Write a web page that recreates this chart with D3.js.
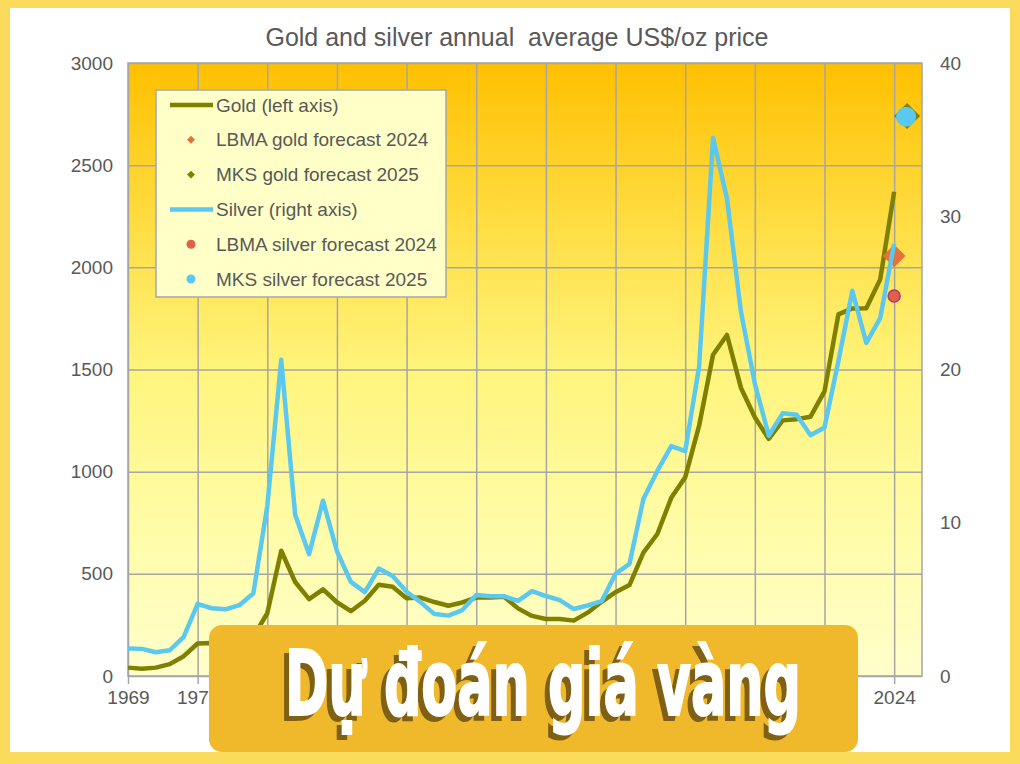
<!DOCTYPE html>
<html>
<head>
<meta charset="utf-8">
<script src="https://cdn.jsdelivr.net/npm/d3@7"></script>
<style>
  html, body { margin: 0; padding: 0; background: #fff; }
  svg { display: block; }
  text { font-family: "Liberation Sans", Arial, sans-serif; }
</style>
</head>
<body>
<svg id="chart" width="1020" height="764"></svg>
<script>
// ---------- data ----------
const years = [1969,1970,1971,1972,1973,1974,1975,1976,1977,1978,1979,1980,1981,1982,1983,1984,1985,1986,1987,1988,1989,1990,1991,1992,1993,1994,1995,1996,1997,1998,1999,2000,2001,2002,2003,2004,2005,2006,2007,2008,2009,2010,2011,2012,2013,2014,2015,2016,2017,2018,2019,2020,2021,2022,2023,2024];
const gold = [41,36,41,58,97,159,161,125,148,193,307,613,460,376,424,361,317,368,447,437,381,384,362,344,360,384,384,388,331,294,279,279,271,310,363,410,445,604,695,872,972,1225,1572,1669,1411,1266,1160,1251,1257,1269,1393,1770,1799,1800,1941,2370];
const silver = [1.79,1.77,1.55,1.68,2.56,4.71,4.42,4.35,4.62,5.40,11.09,20.63,10.52,7.95,11.44,8.14,6.14,5.47,7.01,6.53,5.50,4.82,4.04,3.94,4.30,5.29,5.20,5.20,4.90,5.54,5.22,4.95,4.37,4.60,4.88,6.67,7.32,11.55,13.38,15.0,14.67,20.19,35.12,31.15,23.79,19.08,15.68,17.14,17.05,15.71,16.21,20.55,25.14,21.73,23.35,28.2];
const lbmaGoldForecast = [{year: 2024, value: 2056}];
const mksGoldForecast = [{year: 2025, value: 2741}];
const lbmaSilverForecast = [{year: 2024, value: 24.8}];
const mksSilverForecast = [{year: 2025, value: 36.5}];
const xTickYears = [1969,1974,1979,1984,1989,1994,1999,2004,2009,2014,2019,2024];
const leftTicks = [0,500,1000,1500,2000,2500,3000];
const rightTicks = [0,10,20,30,40];
const legendLabels = ["Gold (left axis)","LBMA gold forecast 2024","MKS gold forecast 2025","Silver (right axis)","LBMA silver forecast 2024","MKS silver forecast 2025"];
const titleText = "Gold and silver annual  average US$/oz price";
const bannerText = "Dự đoán giá vàng";

// ---------- layout ----------
const W = 1020, H = 764;
const P = {left: 128, right: 922, top: 63, bottom: 676};
const C = {
  gold: "#7f7f00", silver: "#5bc8f0", lbmaGold: "#e8703a", lbmaSilver: "#e0604a",
  lbmaSilverStroke: "#b03a78", text: "#595959", grid: "#a6a6a6"
};

const svg = d3.select("#chart");
const defs = svg.append("defs");
const grad = defs.append("linearGradient").attr("id", "bg").attr("x1", 0).attr("y1", 0).attr("x2", 0).attr("y2", 1);
[[0, "#ffc000"], [0.25, "#ffdc40"], [0.5, "#fff47c"], [0.75, "#fffca6"], [1, "#ffffcc"]]
  .forEach(([o, c]) => grad.append("stop").attr("offset", o).attr("stop-color", c));

// outer frame
svg.append("rect").attr("width", W).attr("height", H).attr("fill", "#f9da5b");
svg.append("rect").attr("x", 10).attr("y", 8).attr("width", 1000).attr("height", 744).attr("fill", "#ffffff");

// scales
const x = d3.scaleLinear().domain([1969, 2026]).range([P.left, P.right]);
const yL = d3.scaleLinear().domain([0, 3000]).range([P.bottom, P.top]);
const yR = d3.scaleLinear().domain([0, 40]).range([P.bottom, P.top]);

// plot background
svg.append("rect").attr("x", P.left).attr("y", P.top)
  .attr("width", P.right - P.left).attr("height", P.bottom - P.top).attr("fill", "url(#bg)");

// gridlines
const gH = d3.axisLeft(yL).tickValues(leftTicks).tickSize(-(P.right - P.left)).tickFormat("");
svg.append("g").attr("transform", `translate(${P.left},0)`).call(gH)
  .call(g => g.select(".domain").remove())
  .call(g => g.selectAll("line").attr("stroke", C.grid).attr("stroke-width", 1.5));
const gV = d3.axisBottom(x).tickValues(xTickYears).tickSize(-(P.bottom - P.top)).tickFormat("");
svg.append("g").attr("transform", `translate(0,${P.bottom})`).call(gV)
  .call(g => g.select(".domain").remove())
  .call(g => g.selectAll("line").attr("stroke", C.grid).attr("stroke-width", 1.5));

// plot border
svg.append("rect").attr("x", P.left).attr("y", P.top)
  .attr("width", P.right - P.left).attr("height", P.bottom - P.top)
  .attr("fill", "none").attr("stroke", C.grid).attr("stroke-width", 1.5);

// axes
const axL = d3.axisLeft(yL).tickValues(leftTicks).tickSize(0).tickPadding(15).tickFormat(d3.format("d"));
svg.append("g").attr("transform", `translate(${P.left},0)`).call(axL)
  .call(g => g.select(".domain").remove())
  .call(g => g.selectAll("text").attr("fill", C.text).style("font-size", "19px").style("font-family", "Liberation Sans, Arial, sans-serif"));
const axR = d3.axisRight(yR).tickValues(rightTicks).tickSize(0).tickPadding(18).tickFormat(d3.format("d"));
svg.append("g").attr("transform", `translate(${P.right},0)`).call(axR)
  .call(g => g.select(".domain").remove())
  .call(g => g.selectAll("text").attr("fill", C.text).style("font-size", "19px").style("font-family", "Liberation Sans, Arial, sans-serif"));
const axB = d3.axisBottom(x).tickValues(xTickYears).tickSize(8).tickPadding(7).tickFormat(d3.format("d"));
svg.append("g").attr("transform", `translate(0,${P.bottom})`).call(axB)
  .call(g => g.select(".domain").remove())
  .call(g => g.selectAll("line").attr("stroke", C.grid).attr("stroke-width", 1.5))
  .call(g => g.selectAll("text").attr("fill", C.text).style("font-size", "19px").style("font-family", "Liberation Sans, Arial, sans-serif"));

// title
svg.append("text").attr("x", 517).attr("y", 46).attr("text-anchor", "middle")
  .attr("fill", C.text).style("font-size", "25px").style("white-space", "pre").text(titleText);

// series
const goldData = years.map((yr, i) => ({year: yr, value: gold[i]}));
const silverData = years.map((yr, i) => ({year: yr, value: silver[i]}));
const diamond = d3.symbol().type(d3.symbolDiamond2);

svg.append("path").datum(goldData)
  .attr("d", d3.line().x(d => x(d.year)).y(d => yL(d.value)))
  .attr("fill", "none").attr("stroke", C.gold).attr("stroke-width", 4.5).attr("stroke-linejoin", "round");

svg.selectAll(".lbmaG").data(lbmaGoldForecast).join("path")
  .attr("transform", d => `translate(${x(d.year)},${yL(d.value)})`)
  .attr("d", diamond.size(330)).attr("fill", C.lbmaGold);
svg.selectAll(".mksG").data(mksGoldForecast).join("path")
  .attr("transform", d => `translate(${x(d.year) - 1},${yL(d.value)})`)
  .attr("d", diamond.size(430)).attr("fill", C.gold);

svg.append("path").datum(silverData)
  .attr("d", d3.line().x(d => x(d.year)).y(d => yR(d.value)))
  .attr("fill", "none").attr("stroke", C.silver).attr("stroke-width", 4.5).attr("stroke-linejoin", "round");

svg.selectAll(".lbmaS").data(lbmaSilverForecast).join("circle")
  .attr("cx", d => x(d.year)).attr("cy", d => yR(d.value)).attr("r", 6)
  .attr("fill", C.lbmaSilver).attr("stroke", C.lbmaSilverStroke).attr("stroke-width", 1.5);
svg.selectAll(".mksS").data(mksSilverForecast).join("circle")
  .attr("cx", d => x(d.year) - 2).attr("cy", d => yR(d.value)).attr("r", 10)
  .attr("fill", C.silver);

// legend
const lg = svg.append("g");
lg.append("rect").attr("x", 156).attr("y", 90).attr("width", 290).attr("height", 207)
  .attr("fill", "#ffffc8").attr("stroke", C.grid).attr("stroke-width", 1.5);
const legendY = d3.scalePoint().domain(legendLabels).range([105, 279]);
const legendKinds = ["line", "diamond", "diamond", "line", "circle", "circle"];
const legendColors = [C.gold, C.lbmaGold, C.gold, C.silver, C.lbmaSilver, C.silver];
legendLabels.forEach((lab, i) => {
  const yy = legendY(lab);
  if (legendKinds[i] === "line") {
    lg.append("line").attr("x1", 170).attr("x2", 213).attr("y1", yy).attr("y2", yy)
      .attr("stroke", legendColors[i]).attr("stroke-width", 4.5);
  } else if (legendKinds[i] === "diamond") {
    lg.append("path").attr("transform", `translate(191,${yy})`).attr("d", diamond.size(40)).attr("fill", legendColors[i]);
  } else {
    lg.append("circle").attr("cx", 191).attr("cy", yy).attr("r", 4.5).attr("fill", legendColors[i]);
  }
  lg.append("text").attr("x", 216).attr("y", yy).attr("dy", "0.35em")
    .attr("fill", C.text).style("font-size", "19px").text(lab);
});

// banner overlay
svg.append("rect").attr("x", 209).attr("y", 625).attr("width", 649).attr("height", 127)
  .attr("rx", 13).attr("fill", "#f0b92b");
const bannerFont = "'Liberation Sans Narrow', 'DejaVu Sans Condensed', 'Liberation Sans', sans-serif";
svg.append("text").attr("x", 280).attr("y", 720).attr("textLength", 516).attr("lengthAdjust", "spacingAndGlyphs")
  .style("font-family", bannerFont).style("font-weight", "bold").style("font-size", "90px")
  .attr("fill", "#7f6014").attr("stroke", "#7f6014").attr("stroke-width", 2).text(bannerText);
svg.append("text").attr("x", 285).attr("y", 715).attr("textLength", 516).attr("lengthAdjust", "spacingAndGlyphs")
  .style("font-family", bannerFont).style("font-weight", "bold").style("font-size", "90px")
  .attr("fill", "#ffffff").attr("stroke", "#ffffff").attr("stroke-width", 2).text(bannerText);
</script>
</body>
</html>
